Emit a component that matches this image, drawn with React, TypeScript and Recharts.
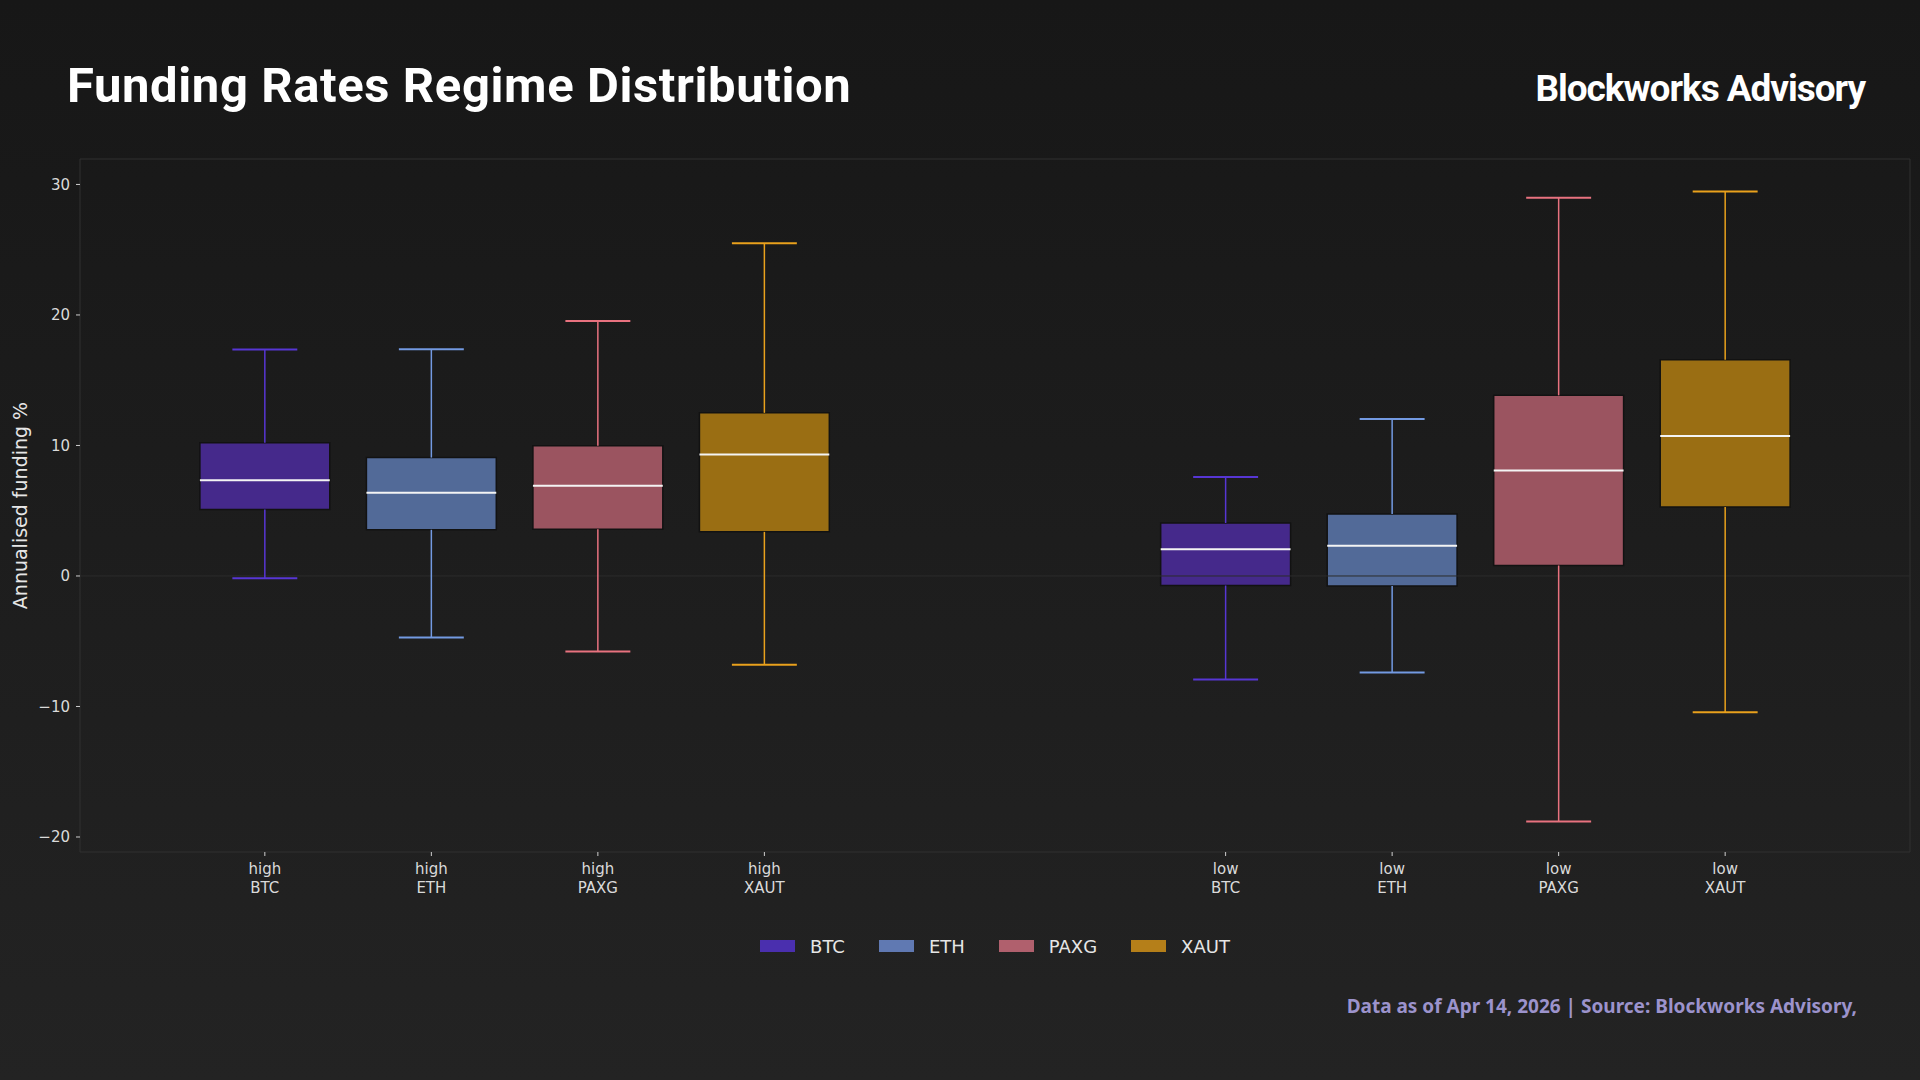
import { ComposedChart, Legend, ReferenceArea, ReferenceLine, Scatter, XAxis, YAxis } from "recharts";

const assets = ["BTC", "ETH", "PAXG", "XAUT"];
const regimes = ["high", "low"];

// x positions of the boxes, one row per regime
const highPositions = [0, 1, 2, 3];
const lowPositions = [5.77, 6.77, 7.77, 8.77];

// annualised funding %, per asset in the order of `assets`
const highMin = [-0.17, -4.71, -5.78, -6.8];
const highQ1 = [5.09, 3.54, 3.58, 3.38];
const highMedian = [7.34, 6.37, 6.91, 9.3];
const highQ3 = [10.2, 9.07, 9.97, 12.5];
const highMax = [17.35, 17.37, 19.54, 25.5];

const lowMin = [-7.94, -7.39, -18.81, -10.44];
const lowQ1 = [-0.73, -0.76, 0.8, 5.29];
const lowMedian = [2.04, 2.31, 8.09, 10.73];
const lowQ3 = [4.06, 4.74, 13.84, 16.57];
const lowMax = [7.58, 12.02, 28.98, 29.46];

const yTicks = [-20, -10, 0, 10, 20, 30];

const legendColors = ["#4a2fae", "#6079b2", "#b0606d", "#b57f19"];
const boxColors = ["#45298b", "#526a98", "#9b5460", "#9a6e13"];
const whiskerColors = ["#5736d4", "#739ae2", "#e8727f", "#e9a11c"];

const BOX_W = 0.78;
const CAP_W = 0.39;
const X_DOMAIN = [-1.11, 9.88];
const Y_DOMAIN = [-21.15, 31.95];

const boxes = regimes.flatMap((regime, r) =>
  assets.map((asset, i) => ({
    key: `${regime}-${asset}`,
    regime,
    asset,
    i,
    pos: r === 0 ? highPositions[i] : lowPositions[i],
    min: r === 0 ? highMin[i] : lowMin[i],
    q1: r === 0 ? highQ1[i] : lowQ1[i],
    median: r === 0 ? highMedian[i] : lowMedian[i],
    q3: r === 0 ? highQ3[i] : lowQ3[i],
    max: r === 0 ? highMax[i] : lowMax[i],
  }))
);

const tickPositions = boxes.map((b) => b.pos);

const fmtY = (v: number) => (v < 0 ? `\u2212${Math.abs(v)}` : `${v}`);

function XTick(props: any) {
  const { x, y, payload } = props;
  const b = boxes.find((d) => Math.abs(d.pos - payload.value) < 1e-6);
  if (!b) return null;
  return (
    <text x={x} y={y} textAnchor="middle" fill="#dadada" fontSize={15} fontFamily="DejaVu Sans">
      <tspan x={x} dy={16}>{b.regime}</tspan>
      <tspan x={x} dy={19}>{b.asset}</tspan>
    </text>
  );
}

function YLabel(props: any) {
  const { viewBox } = props;
  const cy = viewBox.y + viewBox.height / 2;
  return (
    <text
      x={20}
      y={cy}
      transform={`rotate(-90 20 ${cy})`}
      textAnchor="middle"
      dominantBaseline="central"
      fill="#e6e6e6"
      fontSize={19}
      fontFamily="DejaVu Sans"
    >
      Annualised funding %
    </text>
  );
}

function LegendContent(props: any) {
  const items = props.payload || [];
  return (
    <div style={{ display: "flex", justifyContent: "center", alignItems: "center", height: 24 }}>
      {items.map((it: any) => {
        const idx = assets.indexOf(it.value);
        return (
          <div key={it.value} style={{ display: "flex", alignItems: "center", marginRight: idx === 3 ? 0 : 34 }}>
            <span style={{ width: 35, height: 12, background: legendColors[idx], marginRight: 15, display: "inline-block" }} />
            <span style={{ color: "#e6e6e6", fontSize: 18, fontFamily: "DejaVu Sans" }}>{it.value}</span>
          </div>
        );
      })}
    </div>
  );
}

export default function App() {
  return (
    <div
      style={{
        position: "absolute",
        left: 0,
        top: 0,
        width: 1920,
        height: 1080,
        background: "linear-gradient(180deg, #171717 0%, #1d1d1d 50%, #232323 100%)",
        overflow: "hidden",
      }}
    >
      <svg width={1920} height={1080} style={{ position: "absolute", left: 0, top: 0 }}>
        <text x={67} y={102} fill="#ffffff" fontSize={49} fontWeight={700} fontFamily="Roboto" letterSpacing={0.6}>
          Funding Rates Regime Distribution
        </text>
        <text x={1865} y={101} textAnchor="end" fill="#ffffff" fontSize={37} fontWeight={700} fontFamily="Roboto" letterSpacing={-1.05}>
          Blockworks Advisory
        </text>
        <text x={1857} y={1013} textAnchor="end" fill="#9c93cc" fontSize={19} fontWeight={700} fontFamily="Noto Sans">
          Data as of Apr 14, 2026 | Source: Blockworks Advisory,
        </text>
      </svg>
      <div style={{ position: "absolute", left: 0, top: 0 }}>
        <ComposedChart width={1920} height={1080} margin={{ top: 159, right: 10, bottom: 122, left: 1 }}>
          <XAxis
            dataKey="x"
            type="number"
            domain={X_DOMAIN}
            allowDataOverflow
            ticks={tickPositions}
            interval={0}
            height={82}
            axisLine={false}
            tickSize={4}
            tickMargin={2}
            tickLine={{ stroke: "#cfcfcf" }}
            tick={<XTick />}
          />
          <YAxis
            dataKey="y"
            type="number"
            domain={Y_DOMAIN}
            allowDataOverflow
            ticks={yTicks}
            interval={0}
            width={79}
            axisLine={false}
            tickSize={4}
            tickMargin={6}
            tickLine={{ stroke: "#cfcfcf" }}
            tickFormatter={fmtY}
            tick={{ fill: "#dadada", fontSize: 15, fontFamily: "DejaVu Sans" }}
            label={<YLabel />}
          />
          <ReferenceArea
            x1={X_DOMAIN[0]}
            x2={X_DOMAIN[1]}
            y1={Y_DOMAIN[0]}
            y2={Y_DOMAIN[1]}
            fill="none"
            stroke="#303030"
            strokeWidth={1}
          />
          <ReferenceLine y={0} stroke="#2c2c2c" strokeWidth={1} />
          {boxes.map((b) => [
            <ReferenceLine
              key={`${b.key}-wl`}
              segment={[{ x: b.pos, y: b.min }, { x: b.pos, y: b.q1 }]}
              stroke={whiskerColors[b.i]}
              strokeWidth={1.5}
            />,
            <ReferenceLine
              key={`${b.key}-wh`}
              segment={[{ x: b.pos, y: b.q3 }, { x: b.pos, y: b.max }]}
              stroke={whiskerColors[b.i]}
              strokeWidth={1.5}
            />,
            <ReferenceLine
              key={`${b.key}-cl`}
              segment={[{ x: b.pos - CAP_W / 2, y: b.min }, { x: b.pos + CAP_W / 2, y: b.min }]}
              stroke={whiskerColors[b.i]}
              strokeWidth={2}
            />,
            <ReferenceLine
              key={`${b.key}-ch`}
              segment={[{ x: b.pos - CAP_W / 2, y: b.max }, { x: b.pos + CAP_W / 2, y: b.max }]}
              stroke={whiskerColors[b.i]}
              strokeWidth={2}
            />,
            <ReferenceArea
              key={`${b.key}-box`}
              x1={b.pos - BOX_W / 2}
              x2={b.pos + BOX_W / 2}
              y1={b.q1}
              y2={b.q3}
              fill={boxColors[b.i]}
              fillOpacity={1}
              stroke="#121212"
              strokeWidth={1.5}
            />,
            <ReferenceLine
              key={`${b.key}-med`}
              segment={[{ x: b.pos - BOX_W / 2, y: b.median }, { x: b.pos + BOX_W / 2, y: b.median }]}
              stroke="#f4f4f4"
              strokeWidth={2}
            />,
          ])}
          {assets.map((a, i) => (
            <Scatter
              key={a}
              name={a}
              data={[]}
              fill={legendColors[i]}
              legendType="rect"
              isAnimationActive={false}
            />
          ))}
          <Legend
            verticalAlign="bottom"
            align="center"
            wrapperStyle={{ left: 80, width: 1830 }}
            content={<LegendContent />}
          />
        </ComposedChart>
      </div>
    </div>
  );
}
